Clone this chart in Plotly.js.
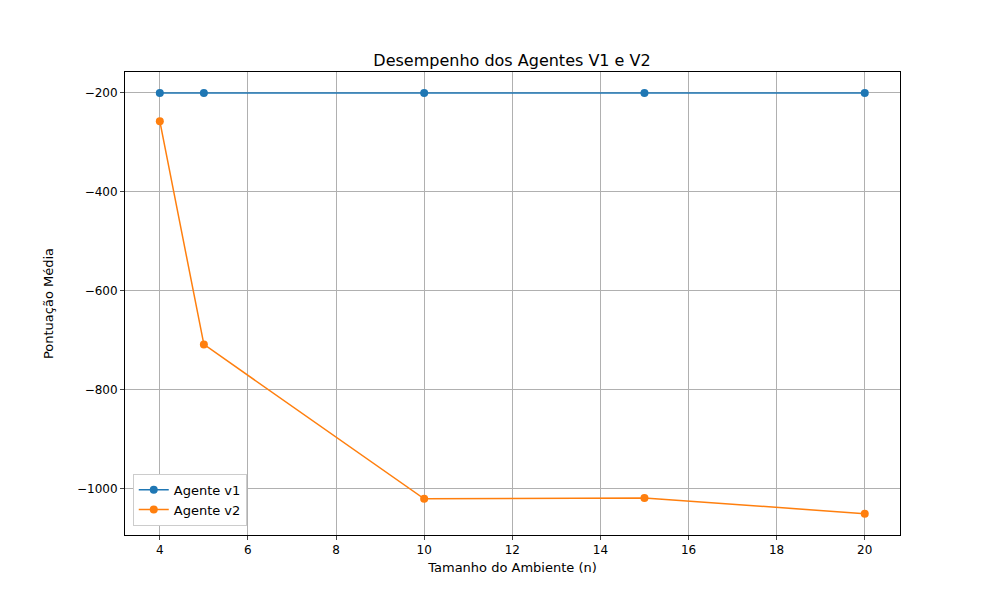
<!DOCTYPE html>
<html><head><meta charset="utf-8">
<script src="https://cdn.plot.ly/plotly-3.0.1.min.js"></script>
<style>body{margin:0}</style></head>
<body><div id="c" style="width:1000px;height:600px"></div>
<script>
const sizes = [4, 5, 10, 15, 20];
const agenteV1 = [-200, -200, -200, -200, -200];
const agenteV2 = [-257, -708, -1020, -1018, -1050];
const traces = [
  {x: sizes, y: agenteV1, name: 'Agente v1', mode: 'lines+markers', line: {color: '#1f77b4', width: 1.5}, marker: {size: 8}},
  {x: sizes, y: agenteV2, name: 'Agente v2', mode: 'lines+markers', line: {color: '#ff7f0e', width: 1.5}, marker: {size: 8}}
];
const ax = {showline: true, mirror: true, linecolor: '#000', linewidth: 1, ticks: 'outside', ticklen: 4, gridcolor: '#b0b0b0', zeroline: false, tickfont: {size: 12, color: '#000'}};
const layout = {
  font: {family: 'DejaVu Sans', color: '#000'},
  paper_bgcolor: '#fff', plot_bgcolor: '#fff',
  margin: {l: 125, r: 100, t: 72, b: 65},
  title: {text: 'Desempenho dos Agentes V1 e V2', font: {size: 16}, x: 0.512, y: 0.9, xanchor: 'center', yanchor: 'middle'},
  xaxis: Object.assign({}, ax, {range: [3.21, 20.8], dtick: 2, title: {text: 'Tamanho do Ambiente (n)', font: {size: 13}, standoff: 6}}),
  yaxis: Object.assign({}, ax, {range: [-1093, -157.6], dtick: 200, title: {text: 'Pontuação Média', font: {size: 13}, standoff: 20}}),
  legend: {x: 0.01, y: 0.02, xanchor: 'left', yanchor: 'bottom', bordercolor: '#ccc', borderwidth: 1, font: {size: 13}},
  showlegend: true
};
Plotly.newPlot('c', traces, layout, {displayModeBar: false});
</script></body></html>
